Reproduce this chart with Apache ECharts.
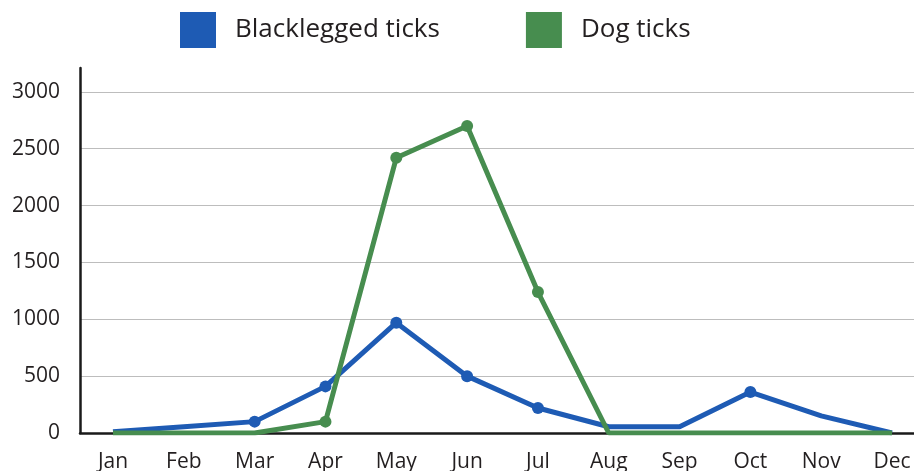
<!DOCTYPE html>
<html><head><meta charset="utf-8">
<script src="https://cdn.jsdelivr.net/npm/echarts@6/dist/echarts.min.js"></script>
<style>html,body{margin:0;padding:0;background:#fff}#c{width:914px;height:471px}</style>
</head><body><div id="c"></div>
<script>
const months = ['Jan','Feb','Mar','Apr','May','Jun','Jul','Aug','Sep','Oct','Nov','Dec'];
const blacklegged = [10, 55, 100, 410, 970, 500, 220, 55, 55, 360, 150, 0];
const dogTicks = [0, 0, 0, 100, 2420, 2700, 1240, 0, 0, 0, 0, 0];
const yTicks = [0, 500, 1000, 1500, 2000, 2500, 3000];

const blueMarked = [2, 3, 4, 5, 6, 9];
const greenMarked = [3, 4, 5, 6];
const FONT = 'Open Sans';
const chart = echarts.init(document.getElementById('c'), null, {renderer:'canvas'});
const toPairs = arr => arr.map((v, i) => [i, v]);
chart.setOption({
  animation: false,
  backgroundColor: '#fff',
  legend: {
    left: 180, top: 12, padding: 0, itemWidth: 36, itemHeight: 36, itemGap: 86, icon: 'rect',
    textStyle: {fontFamily: FONT, fontSize: 26, color: '#231f20', padding: [0,0,0,14]},
    data: ['Blacklegged ticks', 'Dog ticks']
  },
  grid: {left: 80, right: 0, top: 68, bottom: 38, containLabel: false, outerBoundsMode: 'none'},
  xAxis: {
    type: 'value', min: -0.466, max: 11.31,
    axisLine: {show: true, onZero: false, lineStyle: {color: '#1a1a1a', width: 2.5}},
    axisTick: {show: false},
    splitLine: {show: false},
    axisLabel: {
      customValues: months.map((m, i) => i),
      formatter: v => months[Math.round(v)],
      fontFamily: FONT, fontSize: 21, color: '#231f20', margin: 19
    }
  },
  yAxis: {
    type: 'value', min: 0, max: 3210,
    axisLine: {show: true, onZero: false, lineStyle: {color: '#1a1a1a', width: 2.5}},
    axisTick: {show: false},
    splitLine: {show: true, showMaxLine: false, lineStyle: {color: '#bdbdbd', width: 1}},
    axisLabel: {
      customValues: yTicks,
      formatter: v => String(v),
      fontFamily: FONT, fontSize: 21, color: '#231f20', margin: 20,
      padding: [0, 0, 6, 0]
    }
  },
  series: [
    {
      name: 'Blacklegged ticks', type: 'line', data: toPairs(blacklegged),
      color: '#1e5bb4',
      lineStyle: {width: 5, color: '#1e5bb4'},
      symbol: 'circle', showAllSymbol: true,
      symbolSize: (v, p) => blueMarked.includes(p.dataIndex) ? 12 : 0,
      itemStyle: {color: '#1e5bb4'}
    },
    {
      name: 'Dog ticks', type: 'line', data: toPairs(dogTicks),
      color: '#478d4f',
      lineStyle: {width: 5, color: '#478d4f'},
      symbol: 'circle', showAllSymbol: true,
      symbolSize: (v, p) => greenMarked.includes(p.dataIndex) ? 12 : 0,
      itemStyle: {color: '#478d4f'}
    }
  ]
});
</script></body></html>
